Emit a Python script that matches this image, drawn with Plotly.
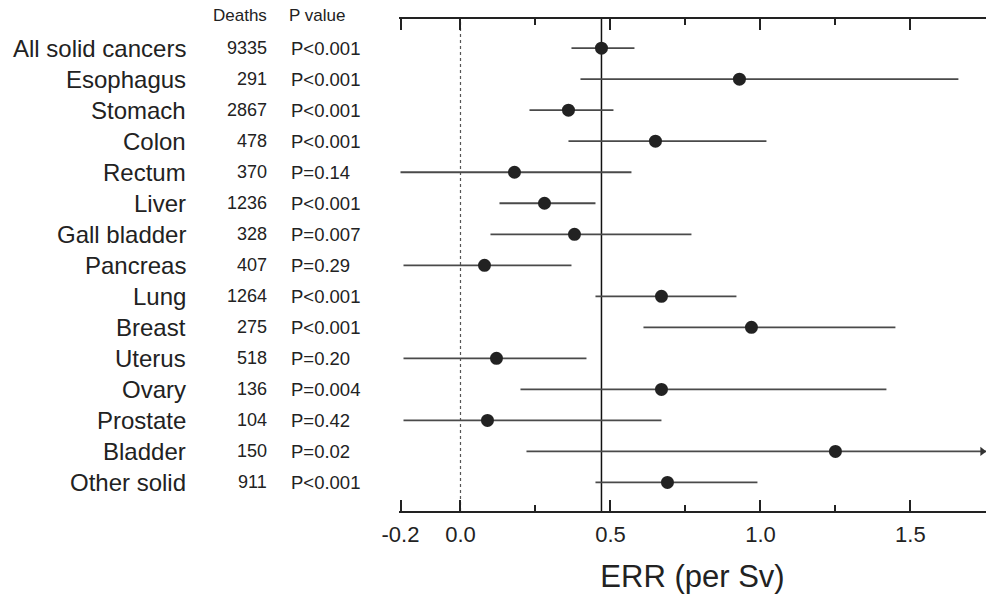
import plotly.graph_objects as go

# ---------------- data ----------------
sites = ["All solid cancers", "Esophagus", "Stomach", "Colon", "Rectum", "Liver",
         "Gall bladder", "Pancreas", "Lung", "Breast", "Uterus", "Ovary",
         "Prostate", "Bladder", "Other solid"]
deaths = ["9335", "291", "2867", "478", "370", "1236", "328", "407", "1264", "275",
          "518", "136", "104", "150", "911"]
pvalues = ["P<0.001", "P<0.001", "P<0.001", "P<0.001", "P=0.14", "P<0.001", "P=0.007",
           "P=0.29", "P<0.001", "P<0.001", "P=0.20", "P=0.004", "P=0.42", "P=0.02", "P<0.001"]
err = [0.47, 0.93, 0.36, 0.65, 0.18, 0.28, 0.38, 0.08, 0.67, 0.97, 0.12, 0.67, 0.09, 1.25, 0.69]
lower = [0.37, 0.40, 0.23, 0.36, -0.20, 0.13, 0.10, -0.19, 0.45, 0.61, -0.19, 0.20, -0.19, 0.22, 0.45]
upper = [0.58, 1.66, 0.51, 1.02, 0.57, 0.45, 0.77, 0.37, 0.92, 1.45, 0.42, 1.42, 0.67, 1.80, 0.99]
truncated_upper = ["Bladder"]

x_ticks = [-0.2, 0.0, 0.5, 1.0, 1.5]
x_tick_text = ["-0.2", "0.0", "0.5", "1.0", "1.5"]
x_minor = [0.25, 0.75, 1.25, 1.75]
x_range = [-0.205, 1.752]
ref_value = err[0]  # all solid cancers ERR, solid vertical line

FONT = "Liberation Sans, Arial, sans-serif"
INK = "#222222"

fig = go.Figure()

# confidence intervals + points
fig.add_trace(go.Scatter(
    x=err, y=sites, mode="markers",
    marker=dict(size=13, color=INK),
    error_x=dict(type="data", symmetric=False,
                 array=[u - e for u, e in zip(upper, err)],
                 arrayminus=[e - l for e, l in zip(err, lower)],
                 color="#4a4a4a", thickness=1.8, width=0),
    showlegend=False, hoverinfo="skip", cliponaxis=True))

# arrow heads for truncated intervals
fig.add_trace(go.Scatter(
    x=[x_range[1] - 0.012 for _ in truncated_upper], y=truncated_upper, mode="markers",
    marker=dict(symbol="triangle-right", size=8, color="#333333"),
    showlegend=False, hoverinfo="skip", cliponaxis=False))

# reference lines
fig.add_shape(type="line", xref="x", yref="paper", x0=0, x1=0, y0=0, y1=1,
              line=dict(color="#555555", width=1.2, dash="dot"), layer="below")
fig.add_shape(type="line", xref="x", yref="paper", x0=ref_value, x1=ref_value, y0=0, y1=1,
              line=dict(color="#111111", width=1.5), layer="below")

# left table
fig.add_annotation(x=-0.2215, y=1.007, xref="paper", yref="paper", text="Deaths",
                   showarrow=False, xanchor="right", yanchor="middle",
                   font=dict(family=FONT, size=17, color=INK))
fig.add_annotation(x=-0.19, y=1.007, xref="paper", yref="paper", text="P value",
                   showarrow=False, xanchor="left", yanchor="middle",
                   font=dict(family=FONT, size=17, color=INK))
for s, d, p in zip(sites, deaths, pvalues):
    fig.add_annotation(x=-0.3595, y=s, xref="paper", yref="y", text=s, showarrow=False,
                       xanchor="right", yanchor="middle",
                       font=dict(family=FONT, size=24, color=INK))
    fig.add_annotation(x=-0.2215, y=s, xref="paper", yref="y", text=d, showarrow=False,
                       xanchor="right", yanchor="middle",
                       font=dict(family=FONT, size=18, color=INK))
    fig.add_annotation(x=-0.188, y=s, xref="paper", yref="y", text=p, showarrow=False,
                       xanchor="left", yanchor="middle",
                       font=dict(family=FONT, size=18.5, color=INK))

fig.update_layout(
    width=986, height=597,
    margin=dict(l=399, r=0, t=19, b=86),
    paper_bgcolor="white", plot_bgcolor="white",
    font=dict(family=FONT, color=INK),
    xaxis=dict(range=x_range, showgrid=False, zeroline=False,
               showline=True, linewidth=2, linecolor="#222", mirror="ticks",
               ticks="inside", ticklen=11, tickwidth=2, tickcolor="#222",
               tickvals=x_ticks, ticktext=x_tick_text,
               tickfont=dict(family=FONT, size=22, color=INK),
               ticklabelstandoff=3,
               minor=dict(tickvals=x_minor, ticks="inside", ticklen=6, tickwidth=2,
                          tickcolor="#222", showgrid=False),
               title=dict(text="ERR (per Sv)", font=dict(family=FONT, size=31, color=INK),
                          standoff=19)),
    yaxis=dict(type="category", categoryorder="array", categoryarray=sites,
               range=[14.92, -0.94], showgrid=False, zeroline=False,
               showline=False, showticklabels=False, ticks=""),
)

fig.write_html("out.html", config={"displayModeBar": False},
               post_script="document.body.style.margin='0';document.body.style.overflow='hidden';")
